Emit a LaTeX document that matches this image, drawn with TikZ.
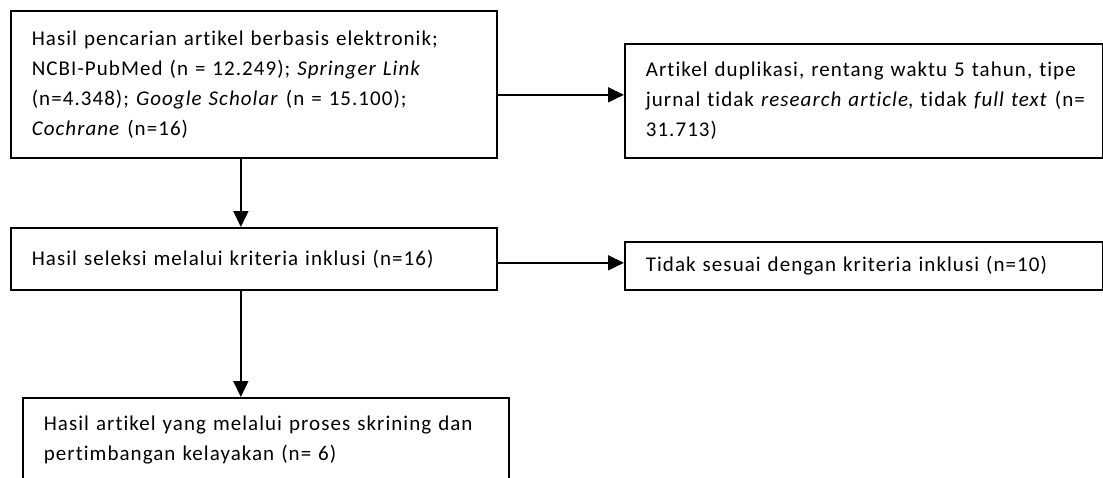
\documentclass[tikz,border=0pt]{standalone}
\usepackage{fontspec}
\setmainfont{Carlito}[Ligatures=NoCommon, LetterSpace=5]
\usetikzlibrary{arrows.meta}
\newcommand{\padX}{21pt}

\begin{document}
\begin{tikzpicture}[x=1pt, y=-1pt,
		box/.style={draw, line width=1.7pt, rectangle, anchor=north west, align=left,
			inner xsep=\padX, inner ysep=0pt, font=\fontsize{21}{30}\selectfont},
		arr/.style={line width=1.7pt, -{Triangle[length=16pt,width=15pt]}}]

		\useasboundingbox (0, 0) rectangle (1103, 477);

		% Search
		\node[box, text width=486pt-2*\padX, minimum height=147pt] (search) at (10, 10)
			{Hasil pencarian artikel berbasis elektronik;\\
			NCBI-PubMed (n = 12.249); \textit{Springer Link}\\
			(n=4.348); \textit{Google Scholar} (n = 15.100);\\
			\textit{Cochrane} (n=16)\\[-8pt]};
		\node[box, text width=478pt-2*\padX, minimum height=114pt] (dup) at (624, 43)
			{Artikel duplikasi, rentang waktu 5 tahun, tipe\\
			jurnal~tidak~\textit{research~article},~tidak~\textit{full~text}~(n=\\
			31.713)};
		% Inclusion
		\node[box, text width=486pt-2*\padX, minimum height=62pt] (seleksi) at (10, 227)
			{Hasil seleksi melalui kriteria inklusi (n=16)};
		\node[box, text width=478pt-2*\padX, minimum height=48pt] (tidak) at (624, 241)
			{Tidak sesuai dengan kriteria inklusi (n=10)};
		% Result
		\node[box, text width=486pt-2*\padX, minimum height=85pt] (hasil) at (22, 397)
			{Hasil artikel yang melalui proses skrining dan\\
			pertimbangan kelayakan (n= 6)};

		\draw[arr] ([yshift=-10.5pt]search.east) -- ([yshift=-10.5pt]search.east -| dup.west);
		\draw[arr] ([xshift=-13pt]search.south) -- ([xshift=-13pt]search.south |- seleksi.north);
		\draw[arr] ([yshift=-4pt]seleksi.east) -- ([yshift=-4pt]seleksi.east -| tidak.west);
		\draw[arr] ([xshift=-13pt]seleksi.south) -- ([xshift=-13pt]seleksi.south |- hasil.north);
	\end{tikzpicture}
\end{document}
